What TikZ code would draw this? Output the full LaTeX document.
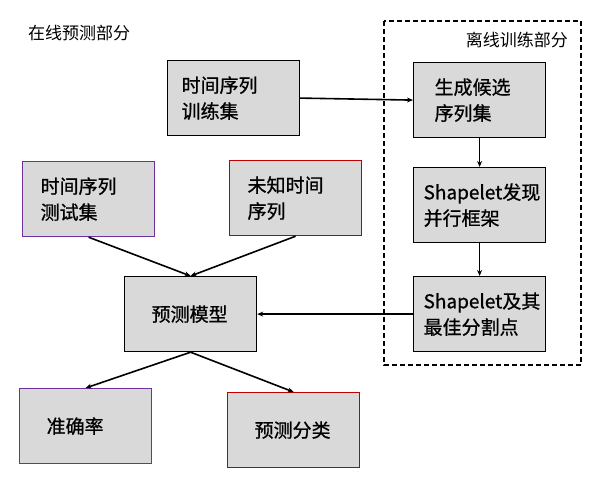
\documentclass[tikz,border=0pt]{standalone}
\usepackage{fontspec}
\setmainfont{Noto Sans CJK SC}
\newfontfamily\boxfont{Noto Sans CJK SC}[FakeBold=0.8]
\usetikzlibrary{arrows.meta}
\definecolor{boxgray}{HTML}{D9D9D9}
\definecolor{mypurple}{HTML}{7030A0}
\definecolor{myred}{HTML}{C00000}
\begin{document}
\begin{tikzpicture}[x=1pt,y=-1pt,
  box/.style={draw=black,fill=boxgray,line width=1.2pt,minimum width=132pt,minimum height=75pt,
    text width=#1, align=left, font=\boxfont\fontsize{19}{26}\selectfont, anchor=north west, inner ysep=0pt},
  box/.default=104pt,
  arr/.style={line width=1.6pt,-{Stealth[length=6pt,width=5pt]}},
  lbl/.style={font=\fontsize{17}{20}\selectfont, inner sep=0pt}]
\useasboundingbox (0,0) rectangle (598,481);
\node[lbl,anchor=west] (t1) at (28,33) {在线预测部分};
\draw[line width=1.5pt,dash pattern=on 5pt off 3pt] (384,21) rectangle (581,365);
\node[lbl,anchor=east] (t2) at (568,40) {离线训练部分};

\node[box=104pt,inner xsep=14pt] (train) at (167,60) {时间序列\\训练集};
\node[box=90pt,inner xsep=21pt] (gen) at (413,62) {生成候选\\序列集};
\node[box=112pt,inner xsep=10pt] (frame) at (413,167) {Shapelet发现\\并行框架};
\node[box=112pt,inner xsep=10pt] (best) at (413,276) {Shapelet及其\\最佳分割点};
\node[box=96pt,inner xsep=18pt,draw=mypurple] (test) at (22,161) {时间序列\\测试集};
\node[box=96pt,inner xsep=18pt,draw=myred] (unk) at (229,160) {未知时间\\序列};
\node[box=78pt,inner xsep=27pt] (model) at (124,276) {预测模型};
\node[box=78pt,inner xsep=27pt,draw=mypurple] (acc) at (19,388) {准确率};
\node[box=78pt,inner xsep=27pt,draw=myred] (cls) at (227,392) {预测分类};

\draw[arr] (train.east) -- (gen.west);
\draw[arr] (gen.south) -- (frame.north);
\draw[arr] (frame.south) -- (best.north);
\draw[arr] (best.west) -- (model.east);
\draw[arr] (test.south) -- (model.north);
\draw[arr] (unk.south) -- (model.north);
\draw[arr] (model.south) -- (acc.north);
\draw[arr] (model.south) -- (cls.north);
\end{tikzpicture}
\end{document}
